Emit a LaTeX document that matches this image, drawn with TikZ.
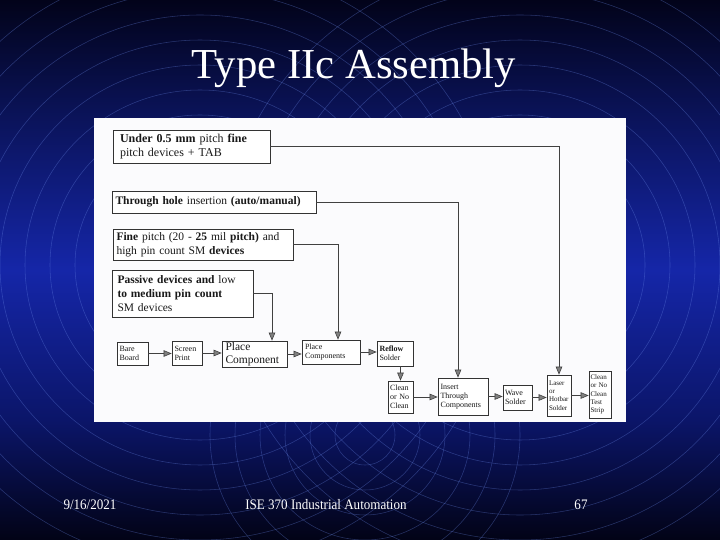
\documentclass[tikz,border=0pt]{standalone}
\usepackage{fontspec}
\setmainfont{Liberation Serif}
\usetikzlibrary{arrows.meta}
\definecolor{ringc}{HTML}{6A88E8}
\definecolor{panelc}{HTML}{FBFBFD}
\pgfdeclareverticalshading{slidebg}{100bp}{%
  color(0bp)=(rgb,255:red,2;green,3;blue,22);
  color(25bp)=(rgb,255:red,2;green,3;blue,22);
  color(36bp)=(rgb,255:red,11;green,21;blue,104);
  color(50bp)=(rgb,255:red,21;green,38;blue,168);
  color(65bp)=(rgb,255:red,10;green,18;blue,85);
  color(75bp)=(rgb,255:red,2;green,3;blue,26);
  color(100bp)=(rgb,255:red,2;green,3;blue,26)}
\begin{document}
\begin{tikzpicture}[x=1pt,y=-1pt,
  box/.style={draw=black!80,line width=0.7pt,fill=white,align=left,text=black!90,inner sep=2pt,anchor=center},
  big/.style={box,font=\fontsize{12}{14}\selectfont},
  small/.style={box,inner sep=1.5pt,font=\fontsize{8}{9}\selectfont},
  tiny/.style={box,inner sep=1.5pt,font=\fontsize{7}{8.4}\selectfont},
  link/.style={draw=black!75,line width=0.6pt},
  arr/.style={link,-{Triangle[length=8pt,width=6.5pt,fill=black!50]}},
  ring/.style={draw=ringc,line width=0.55pt,opacity=0.35},
  foot/.style={text=white,font=\fontsize{14.5}{16}\selectfont,anchor=base}
]
\useasboundingbox (0,0) rectangle (720,540);
% background
\shade[shading=slidebg] (0,0) rectangle (720,540);
\begin{scope}
  \clip (0,0) rectangle (720,540);
  \foreach \r in {50,75,...,300} {
    \draw[ring] (200,265) circle[radius=\r];
    \draw[ring] (520,265) circle[radius=\r];
  }
  \foreach \r in {30,55,...,155} {
    \draw[ring] (365,435) circle[radius=\r];
  }
\end{scope}
% title
\node[text=white,font=\fontsize{42.7}{48}\selectfont,anchor=base] (title) at (354,79) {Type IIc Assembly};
% panel
\fill[panelc] (94,118) rectangle (626,422);
% input boxes
\node[big,minimum width=157pt,minimum height=33pt,text width=143pt] (b1) at (191.5,146.5)
  {\textbf{Under 0.5 mm} pitch \textbf{fine}\\pitch devices + TAB};
\node[big,font=\fontsize{11.5}{14}\selectfont,minimum width=204pt,minimum height=22pt,text width=197pt] (b2) at (214,202)
  {\textbf{Through hole} insertion \textbf{(auto/manual)}};
\node[big,font=\fontsize{11.5}{14}\selectfont,minimum width=180pt,minimum height=31pt,text width=173pt] (b3) at (203,244.5)
  {\textbf{Fine} pitch (20 - \textbf{25} mil \textbf{pitch)} and\\high pin count SM \textbf{devices}};
\node[big,font=\fontsize{11.5}{14}\selectfont,minimum width=141pt,minimum height=47pt,text width=130pt] (b4) at (182.5,293.5)
  {\textbf{Passive devices and} low\\\textbf{to medium pin count}\\SM devices};
% process row
\node[small,minimum width=31pt,minimum height=23pt,text width=26pt] (bare) at (132.5,353.5) {Bare\\Board};
\node[small,minimum width=30pt,minimum height=24pt,text width=25pt] (screen) at (187,353) {Screen\\Print};
\node[box,font=\fontsize{11.5}{12.5}\selectfont,inner sep=1.5pt,minimum width=65pt,minimum height=26pt,text width=58pt] (pc1) at (254.5,354) {Place\\Component};
\node[small,minimum width=58pt,minimum height=24pt,text width=52pt] (pc2) at (331,352) {Place\\Components};
\node[small,minimum width=36pt,minimum height=25pt,text width=31pt] (reflow) at (395,353.5) {\textbf{Reflow}\\Solder};
\node[small,minimum width=25pt,minimum height=32pt,text width=21pt] (clean) at (400.5,397) {Clean\\or No\\Clean};
\node[small,minimum width=50pt,minimum height=37pt,text width=45pt] (insert) at (463,396.5) {Insert\\Through\\Components};
\node[small,minimum width=29pt,minimum height=25pt,text width=25pt] (wave) at (517.5,397.5) {Wave\\Solder};
\node[tiny,minimum width=24pt,minimum height=41pt,text width=20pt] (laser) at (559,395.5) {Laser\\or\\Hotbar\\Solder};
\node[tiny,minimum width=22pt,minimum height=47pt,text width=19pt] (strip) at (600,394.5) {Clean\\or No\\Clean\\Test\\Strip};
% connectors
\draw[arr] (b1.east) -| (laser.north);
\draw[arr] (b2.east) -| ([xshift=-5pt]insert.north);
\draw[arr] (b3.east) -| ([xshift=7pt]pc2.north);
\draw[arr] (b4.east) -| ([xshift=17.5pt]pc1.north);
\draw[arr] (bare.east) -- (screen.west |- bare.east);
\draw[arr] (screen.east) -- (pc1.west |- screen.east);
\draw[arr] (pc1.east) -- (pc2.west |- pc1.east);
\draw[arr] (pc2.east) -- (reflow.west |- pc2.east);
\draw[arr] (clean.north |- reflow.south) -- (clean.north);
\draw[arr] (clean.east) -- (insert.west |- clean.east);
\draw[arr] (insert.east) -- (wave.west |- insert.east);
\draw[arr] (wave.east) -- (laser.west |- wave.east);
\draw[arr] (laser.east) -- (strip.west |- laser.east);
% footer
\node[foot,anchor=base west] (date) at (60,509) {\scalebox{0.9}[1]{9/16/2021}};
\node[foot] (course) at (326,509) {\scalebox{0.9}[1]{ISE 370 Industrial Automation}};
\node[foot] (page) at (581,509) {\scalebox{0.9}[1]{67}};
\end{tikzpicture}
\end{document}
